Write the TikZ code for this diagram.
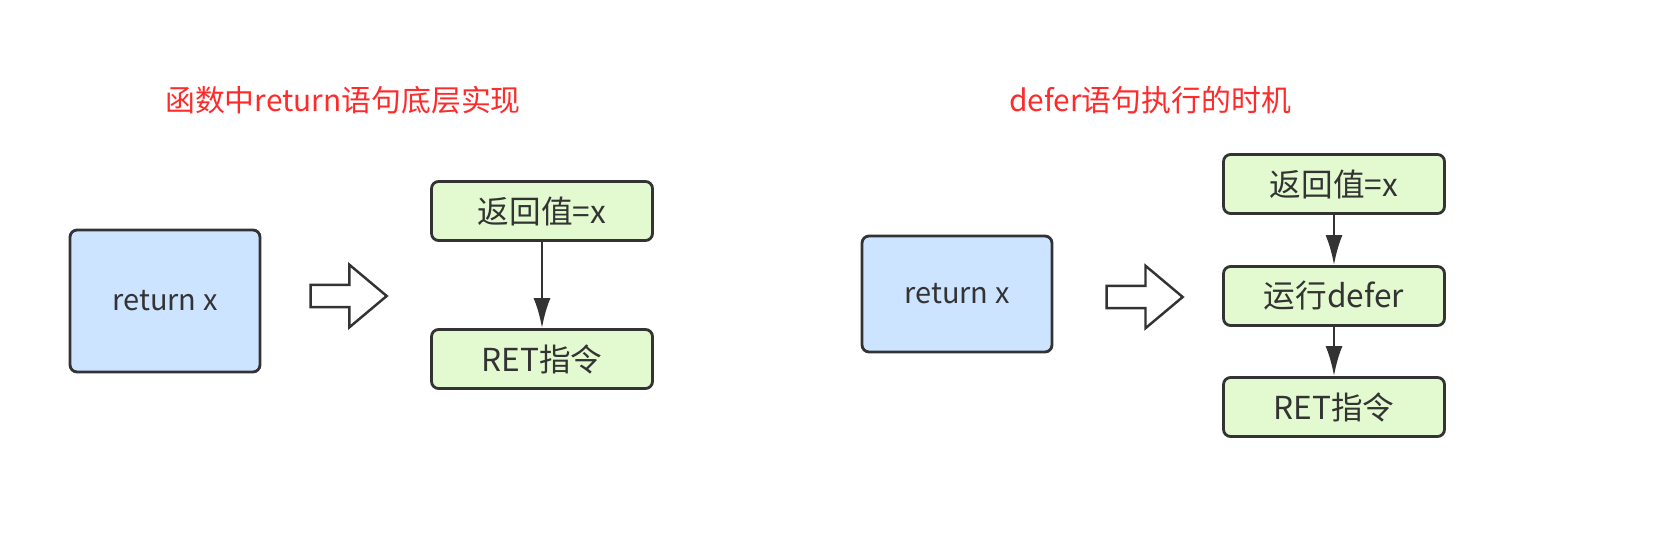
\documentclass[tikz,border=0pt]{standalone}
\usepackage{fontspec}
\setmainfont{Noto Sans CJK SC}
\usetikzlibrary{shapes.arrows,arrows.meta}
\definecolor{linegray}{HTML}{333333}
\definecolor{srcblue}{HTML}{CCE4FF}
\definecolor{stepgreen}{HTML}{E3FAD0}
\definecolor{titlered}{HTML}{FF2A2A}
\tikzset{
  srcbox/.style={draw=linegray, fill=srcblue, line width=1.6pt, rounded corners=4pt,
    minimum width=3.8cm, text=linegray, font=\fontsize{16.5}{19}\selectfont},
  valbox/.style={draw=linegray, fill=stepgreen, line width=1.6pt, rounded corners=4pt,
    minimum width=4.42cm, minimum height=1.18cm, text=linegray, font=\fontsize{18}{21}\selectfont},
  fatarrow/.style={draw=linegray, fill=white, line width=1.4pt, single arrow,
    minimum height=1.52cm, single arrow head extend=0.4cm, single arrow tip angle=80,
    inner xsep=0pt, inner ysep=0.2cm, text height=0pt, text depth=0pt},
  headline/.style={text=titlered, font=\fontsize{17}{20}\selectfont},
  flow/.style={-{Latex[length=0.6cm, width=0.34cm]}, line width=1.6pt, draw=linegray, fill=linegray}
}
\begin{document}
\begin{tikzpicture}[x=0.02cm, y=-0.02cm]
        \useasboundingbox (0,0) rectangle (1664,544);
        % left: return
        \node[headline] (head1) at (343,100) {函数中return语句底层实现};
        \node[srcbox, minimum height=2.84cm] (ret1) at (165,301) {return x};
        \node[fatarrow] (conv1) at (342,296) {};
        \node[valbox] (set1) at (542,211) {返回值=x};
        \node[valbox] (jmp1) at (542,359) {RET指令};
        \draw[flow] (set1) -- (jmp1);
        % right: defer
        \node[headline] (head2) at (1150,100) {defer语句执行的时机};
        \node[srcbox, minimum height=2.32cm] (ret2) at (957,294) {return x};
        \node[fatarrow] (conv2) at (1138,297) {};
        \node[valbox] (set2) at (1334,184) {返回值=x};
        \node[valbox] (run2) at (1334,296) {运行defer};
        \node[valbox] (jmp2) at (1334,407) {RET指令};
        \draw[flow] (set2) -- (run2);
        \draw[flow] (run2) -- (jmp2);
\end{tikzpicture}
\end{document}
